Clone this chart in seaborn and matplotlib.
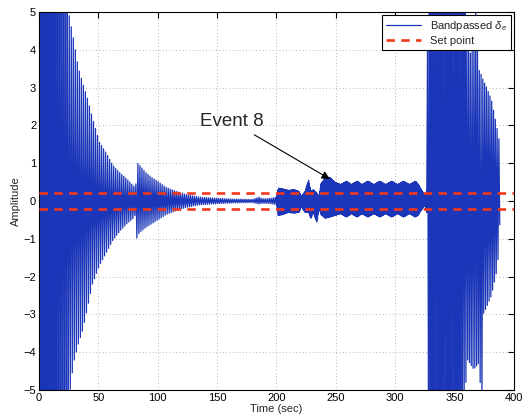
import numpy as np
import pandas as pd
import matplotlib
matplotlib.use("Agg")
import matplotlib.pyplot as plt
from matplotlib.lines import Line2D
import seaborn as sns

# Envelope of the bandpassed elevator signal (sec, upper peak, lower peak magnitude)
env_t = [0, 24.5, 25.5, 29, 33, 37, 41, 45, 51, 57, 62, 68, 74, 79, 81.5, 82.3, 83, 86,
         90, 95, 100, 107, 115, 124, 135, 150, 163, 180, 185, 188, 192, 197, 200, 201.5,
         205, 210, 215, 219, 221, 224, 227, 229, 231, 234, 236, 237.5, 241, 245, 249,
         254, 259, 263, 268, 272, 277, 282, 287, 292, 297, 302, 307, 312, 317, 319, 322,
         325, 326.5, 327.5, 357, 359, 361, 363, 366, 367.5, 370, 373, 374, 377, 381,
         385.4, 387.5, 388.5]
env_hi = [6, 6, 4.9, 4.3, 3.55, 3.1, 2.7, 2.2, 1.55, 1.25, 0.95, 0.75, 0.58, 0.42, 0.35,
          1.17, 1.0, 0.9, 0.75, 0.62, 0.52, 0.36, 0.26, 0.17, 0.1, 0.07, 0.05, 0.04, 0.1,
          0.06, 0.06, 0.08, 0.1, 0.34, 0.32, 0.28, 0.3, 0.25, 0.12, 0.25, 0.55, 0.25, 0.3,
          0.2, 0.12, 0.45, 0.6, 0.62, 0.5, 0.43, 0.52, 0.43, 0.52, 0.43, 0.52, 0.43, 0.52,
          0.43, 0.52, 0.43, 0.52, 0.43, 0.52, 0.45, 0.3, 0.15, 0.3, 6, 6, 6, 4.2, 3.9, 4.0,
          5.2, 3.5, 3.3, 3.2, 3.0, 2.68, 1.98, 1.6, 0.0]
env_lo = [6, 6, 5.2, 4.3, 3.8, 3.4, 2.8, 2.2, 1.7, 1.35, 1.05, 0.8, 0.6, 0.47, 0.35, 1.0,
          0.9, 0.8, 0.7, 0.6, 0.5, 0.36, 0.26, 0.17, 0.1, 0.07, 0.05, 0.04, 0.08, 0.06,
          0.06, 0.08, 0.1, 0.38, 0.36, 0.3, 0.32, 0.3, 0.15, 0.3, 0.3, 0.46, 0.3, 0.56,
          0.2, 0.35, 0.45, 0.42, 0.38, 0.33, 0.42, 0.33, 0.42, 0.33, 0.42, 0.33, 0.42,
          0.33, 0.42, 0.33, 0.42, 0.33, 0.42, 0.38, 0.25, 0.12, 0.3, 6, 6, 5.0, 4.2, 4.3,
          4.45, 4.4, 4.3, 5.3, 3.0, 2.8, 2.5, 1.87, 1.26, 0.0]

# Half-period of the oscillation in each stretch of the record (sec)
seg_edges = [0, 200, 237, 320, 326.5, 388.5]
seg_half_period = [0.85, 0.3, 0.15, 0.4, 0.75]

set_point = 0.2

x_ticks = [0, 50, 100, 150, 200, 250, 300, 350, 400]
y_ticks = [-5, -4, -3, -2, -1, 0, 1, 2, 3, 4, 5]

# Peak-to-peak trace: successive extremes alternate between the two envelopes
peak_t = np.concatenate([np.arange(a, b, h) for a, b, h in
                         zip(seg_edges[:-1], seg_edges[1:], seg_half_period)])
upper = np.interp(peak_t, env_t, env_hi)
lower = -np.interp(peak_t, env_t, env_lo)
signal = np.where(np.arange(peak_t.size) % 2 == 0, upper, lower)
df = pd.DataFrame({"Time (sec)": peak_t, "Amplitude": signal})

sns.set_style("white")
plt.rcParams["font.family"] = ["Liberation Sans", "DejaVu Sans"]
plt.rcParams["mathtext.fontset"] = "custom"
plt.rcParams["mathtext.rm"] = "Liberation Sans"
plt.rcParams["mathtext.it"] = "Liberation Sans:italic"

fig = plt.figure(figsize=(5.26, 4.19), dpi=100)
ax = fig.add_axes([0.0741, 0.0692, 0.9031, 0.9022])

blue = "#1b36b8"
red = "#f2381c"

sns.lineplot(data=df, x="Time (sec)", y="Amplitude", ax=ax, color=blue,
             linewidth=0.9, estimator=None, sort=False, legend=False)
for s in (set_point, -set_point):
    ax.axhline(s, color=red, linestyle=(0, (3.2, 2.4)), linewidth=1.9, zorder=3)

ax.set_xlim(0, 400)
ax.set_ylim(-5, 5)
ax.set_xticks(x_ticks)
ax.set_yticks(y_ticks)
ax.grid(True, linestyle=(0, (1, 3)), color="#a0a0a0", linewidth=0.6)
ax.tick_params(direction="in", top=True, right=True, length=4, width=0.8,
               labelsize=8, pad=2, colors="black")
for sp in ax.spines.values():
    sp.set_color("black")
    sp.set_linewidth(0.8)
ax.set_xlabel("Time (sec)", fontsize=8, labelpad=1)
ax.set_ylabel("Amplitude", fontsize=8, labelpad=2)

ax.annotate("Event 8", xy=(245, 0.58), xytext=(135.5, 2.1),
            fontsize=13.5, ha="left", va="center",
            arrowprops=dict(arrowstyle="-|>", color="black", lw=0.8,
                            mutation_scale=12, shrinkA=2, shrinkB=0))

handles = [Line2D([], [], color=blue, linewidth=0.9),
           Line2D([], [], color=red, linestyle=(0, (3.2, 2.4)), linewidth=1.9)]
leg = ax.legend(handles, [r"Bandpassed $\delta_e$", "Set point"], loc="upper right",
                fontsize=8, frameon=True, fancybox=False, borderaxespad=0.25,
                handlelength=3.2, borderpad=0.35, labelspacing=0.3)
leg.get_frame().set_edgecolor("black")
leg.get_frame().set_linewidth(0.8)
leg.get_frame().set_alpha(1)

fig.savefig("out.png", dpi=100)
